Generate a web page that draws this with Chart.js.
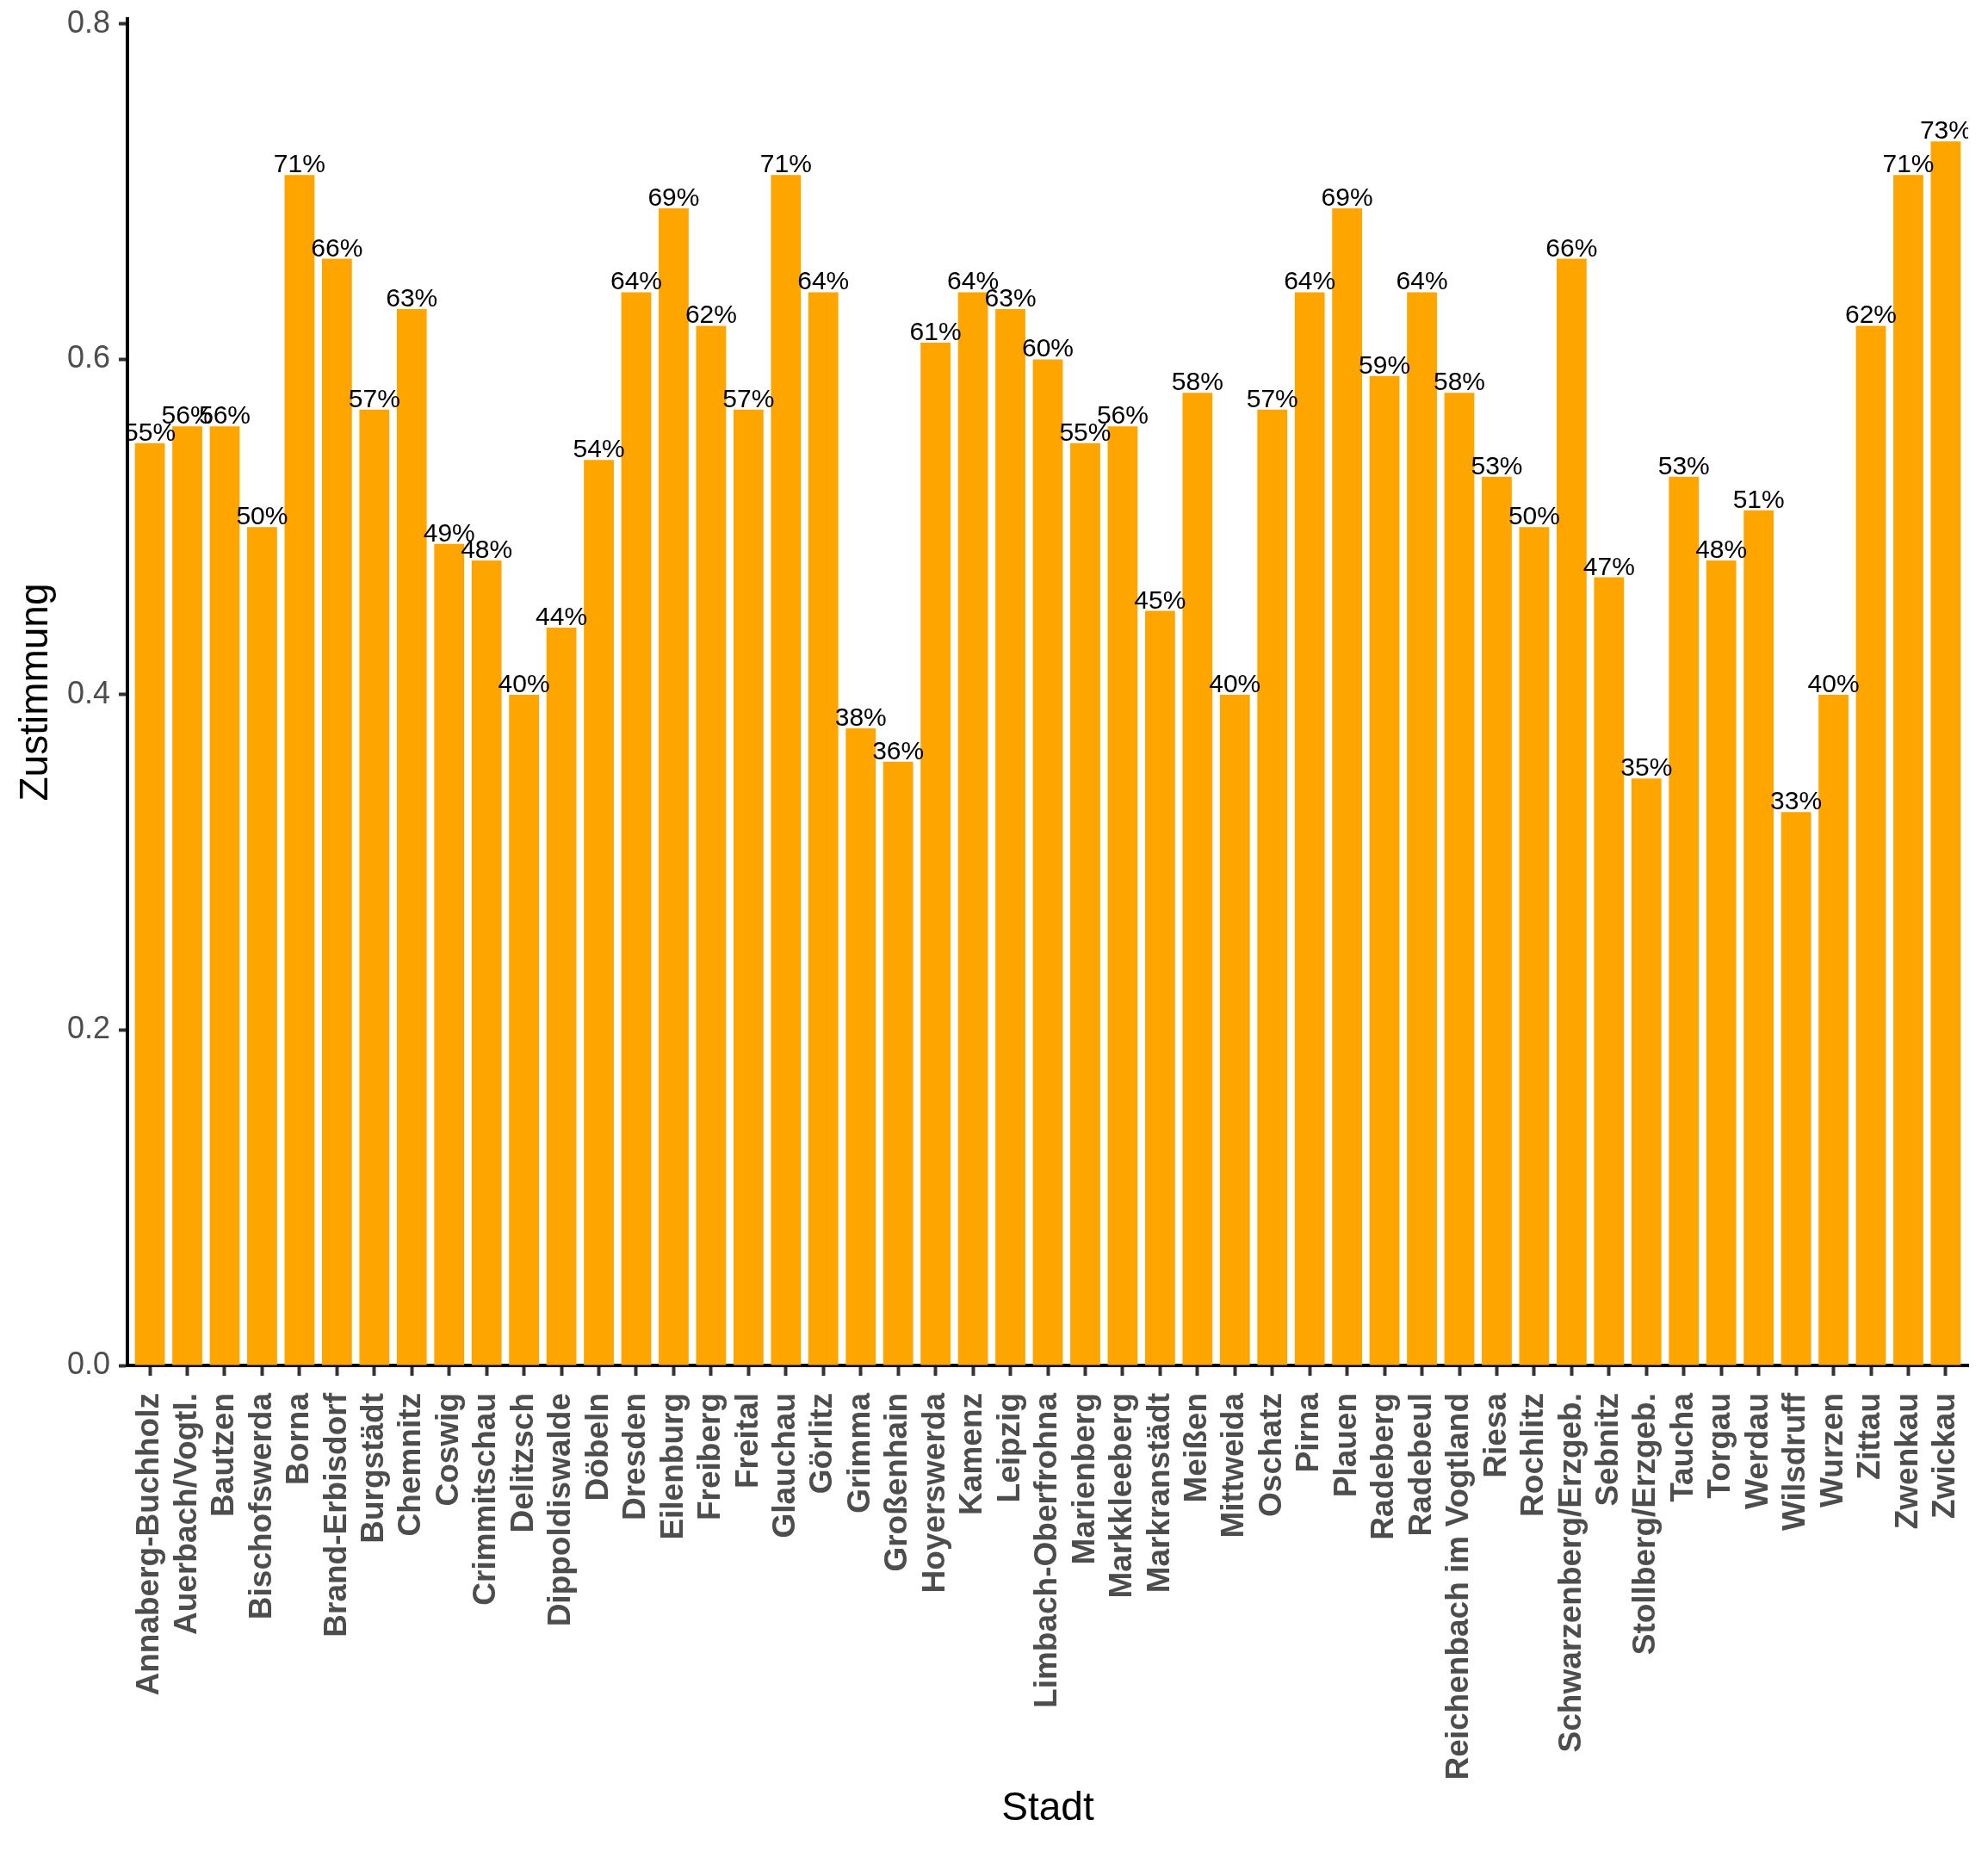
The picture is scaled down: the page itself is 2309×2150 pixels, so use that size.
<!DOCTYPE html>
<html lang="de">
<head>
<meta charset="utf-8">
<title>Zustimmung nach Stadt</title>
<script src="https://cdn.jsdelivr.net/npm/chart.js@4.4.0/dist/chart.umd.min.js"></script>
<style>
    html, body { margin: 0; padding: 0; background: #fff; }
    canvas { display: block; }
</style>
</head>
<body>
<canvas id="mainChart" width="2309" height="2150"></canvas>
<script>
// Städte (x-Achse)
const cities = [
    'Annaberg-Buchholz', 'Auerbach/Vogtl.', 'Bautzen', 'Bischofswerda', 'Borna',
    'Brand-Erbisdorf', 'Burgstädt', 'Chemnitz', 'Coswig', 'Crimmitschau',
    'Delitzsch', 'Dippoldiswalde', 'Döbeln', 'Dresden', 'Eilenburg',
    'Freiberg', 'Freital', 'Glauchau', 'Görlitz', 'Grimma',
    'Großenhain', 'Hoyerswerda', 'Kamenz', 'Leipzig', 'Limbach-Oberfrohna',
    'Marienberg', 'Markkleeberg', 'Markranstädt', 'Meißen', 'Mittweida',
    'Oschatz', 'Pirna', 'Plauen', 'Radeberg', 'Radebeul',
    'Reichenbach im Vogtland', 'Riesa', 'Rochlitz', 'Schwarzenberg/Erzgeb.', 'Sebnitz',
    'Stollberg/Erzgeb.', 'Taucha', 'Torgau', 'Werdau', 'Wilsdruff',
    'Wurzen', 'Zittau', 'Zwenkau', 'Zwickau'
];

// Zustimmung je Stadt
const approval = [
    0.55, 0.56, 0.56, 0.50, 0.71,
    0.66, 0.57, 0.63, 0.49, 0.48,
    0.40, 0.44, 0.54, 0.64, 0.69,
    0.62, 0.57, 0.71, 0.64, 0.38,
    0.36, 0.61, 0.64, 0.63, 0.60,
    0.55, 0.56, 0.45, 0.58, 0.40,
    0.57, 0.64, 0.69, 0.59, 0.64,
    0.58, 0.53, 0.50, 0.66, 0.47,
    0.35, 0.53, 0.48, 0.51, 0.33,
    0.40, 0.62, 0.71, 0.73
];

// Tick-Werte der y-Achse
const yTicks = [0, 0.2, 0.4, 0.6, 0.8];

const FONT = '"Liberation Sans", Arial, sans-serif';
Chart.defaults.font.family = FONT;

// Prozentwerte über den Balken (wie geom_text), auf den Plotbereich beschnitten
const barLabels = {
    id: 'barLabels',
    afterDatasetsDraw(chart) {
        const { ctx, chartArea } = chart;
        const meta = chart.getDatasetMeta(0);
        ctx.save();
        ctx.beginPath();
        ctx.rect(chartArea.left, chartArea.top, chartArea.right - chartArea.left, chartArea.bottom - chartArea.top);
        ctx.clip();
        ctx.font = '30px ' + FONT;
        ctx.fillStyle = '#000000';
        ctx.textAlign = 'center';
        ctx.textBaseline = 'alphabetic';
        meta.data.forEach((bar, i) => {
            ctx.fillText(Math.round(approval[i] * 100) + '%', bar.x, bar.y - 3);
        });
        ctx.restore();
    }
};

const ctx = document.getElementById('mainChart').getContext('2d');

new Chart(ctx, {
    type: 'bar',
    data: {
        datasets: [{
            label: 'Zustimmung',
            data: approval.map((v, i) => ({ x: i + 1, y: v })),
            backgroundColor: '#FFA500',
            borderWidth: 0,
            barPercentage: 1,
            categoryPercentage: 0.8
        }]
    },
    options: {
        responsive: false,
        devicePixelRatio: 1,
        animation: false,
        layout: {
            padding: { top: 22, right: 23, bottom: 0, left: 0 }
        },
        plugins: {
            legend: { display: false },
            tooltip: { enabled: false }
        },
        scales: {
            x: {
                type: 'linear',
                min: 0.4,
                max: 49.6,
                offset: false,
                afterBuildTicks: (scale) => {
                    scale.ticks = cities.map((c, i) => ({ value: i + 1 }));
                },
                afterFit: (scale) => {
                    // feste Höhe wie im Original, keine Zusatzränder durch gedrehte Labels
                    scale.height = 564;
                    scale.paddingLeft = 0;
                    scale.paddingRight = 0;
                },
                border: { display: true, color: '#000000', width: 4 },
                grid: {
                    offset: false,
                    drawOnChartArea: false,
                    drawTicks: true,
                    tickLength: 12,
                    tickWidth: 4,
                    tickColor: '#333333'
                },
                ticks: {
                    autoSkip: false,
                    minRotation: 90,
                    maxRotation: 90,
                    padding: 20,
                    color: '#4D4D4D',
                    font: { size: 37, weight: 'bold' },
                    callback: (value) => cities[Math.round(value) - 1]
                },
                title: {
                    display: true,
                    text: 'Stadt',
                    color: '#000000',
                    font: { size: 46 },
                    padding: { top: 0, bottom: 21 }
                }
            },
            y: {
                min: 0,
                max: 0.803,
                afterBuildTicks: (scale) => {
                    scale.ticks = yTicks.map(v => ({ value: v }));
                },
                afterFit: (scale) => {
                    scale.width = 148;
                    scale.paddingTop = 0;
                    scale.paddingBottom = 0;
                },
                border: { display: true, color: '#000000', width: 4 },
                grid: {
                    drawOnChartArea: false,
                    drawTicks: true,
                    tickLength: 10,
                    tickWidth: 4,
                    tickColor: '#333333'
                },
                ticks: {
                    padding: 10,
                    color: '#4D4D4D',
                    font: { size: 36 },
                    callback: (value) => value.toFixed(1)
                },
                title: {
                    display: true,
                    text: 'Zustimmung',
                    color: '#000000',
                    font: { size: 46 },
                    padding: { top: 15, bottom: 0 }
                }
            }
        }
    },
    plugins: [barLabels]
});
</script>
</body>
</html>
